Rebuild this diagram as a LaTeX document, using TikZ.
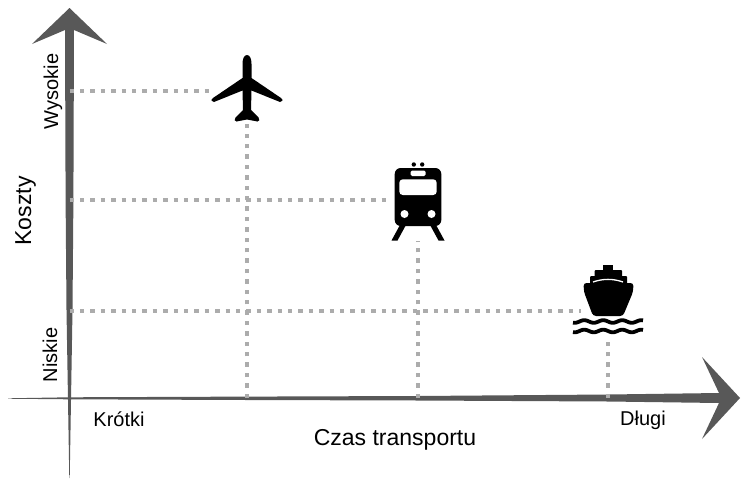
\documentclass[tikz,border=0pt]{standalone}
\usepackage{fontspec}
\setmainfont{Liberation Sans}

\definecolor{axisgray}{RGB}{88,88,88}
\definecolor{guidegray}{RGB}{172,172,172}

\begin{document}
\begin{tikzpicture}
[x=1pt, y=-1pt,
 guide/.style={draw=guidegray, line width=3.5pt, dash pattern=on 4.5pt off 5.9pt},
 iconbox/.style={inner sep=0pt},
 ticklabel/.style={font=\fontsize{20}{24}\selectfont, inner sep=0pt},
 axistitle/.style={font=\fontsize{23}{28}\selectfont, inner sep=0pt}]

\useasboundingbox (0,0) rectangle (741,482);

% axes
\fill[axisgray] (69.3,478) -- (68,400) -- (66.5,310) -- (65.6,200) -- (65,30) -- (32,44) -- (69.5,8)
  -- (107,44) -- (74,30) -- (73.4,200) -- (72.5,310) -- (71,400) -- (69.7,478) -- cycle;
\fill[axisgray] (8,398.3) -- (69,397.3) -- (247,396.6) -- (418,396) -- (608,394.5) -- (719,393) -- (702,357)
  -- (740,398) -- (702,439) -- (719,403) -- (608,401.5) -- (418,400.5) -- (247,400) -- (69,399.3) -- (8,398.7) -- cycle;

\coordinate (O) at (69.5,398);
\coordinate (hi) at (69.5,91);
\coordinate (mid) at (69.5,200);
\coordinate (lo) at (69.5,311);

\node[iconbox, minimum width=72pt, minimum height=72pt] (plane) at (247,88) {};
\node[iconbox, minimum width=53pt, minimum height=76pt] (train) at (418,203) {};
\node[iconbox, minimum width=54pt, minimum height=72pt] (ship) at (608,300) {};

% guides
\draw[guide] (hi) -- (hi -| plane.west);
\draw[guide] (mid) -- (mid -| train.west);
\draw[guide] (lo) -- (lo -| ship.west);
\draw[guide] (plane.south |- O) -- (plane.south);
\draw[guide] (train.south |- O) -- (train.south);
\draw[guide] (ship.south |- O) -- (ship.south);

% plane
\begin{scope}[shift={(247,88)}]
\fill (0,-33) .. controls (3,-33) and (4.5,-29) .. (4.5,-24) -- (4.5,-10) -- (34,10)
  .. controls (36.5,11.5) and (35.5,14.5) .. (33,14) -- (4.5,2.5) -- (4,22) -- (11.5,29.5)
  .. controls (13,31) and (12.5,34) .. (10.5,33.5) -- (0,31.5) -- (-10.5,33.5)
  .. controls (-12.5,34) and (-13,31) .. (-11.5,29.5) -- (-4,22) -- (-4.5,2.5) -- (-33,14)
  .. controls (-35.5,14.5) and (-36.5,11.5) .. (-34,10) -- (-4.5,-10) -- (-4.5,-24)
  .. controls (-4.5,-29) and (-3,-33) .. (0,-33) -- cycle;
\end{scope}

% train
\begin{scope}[shift={(418,203)}]
\fill[rounded corners=6pt] (-23.3,-35) rectangle (23.3,23);
\fill (-4.2,-38.5) circle (2.2pt) (4.2,-38.5) circle (2.2pt);
\fill (-17.5,21) -- (-11.5,21) -- (-20.5,37.5) -- (-26.5,37.5) -- cycle;
\fill (17.5,21) -- (11.5,21) -- (20.5,37.5) -- (26.5,37.5) -- cycle;
\fill[white, rounded corners=1.5pt] (-7.5,-32.5) rectangle (7.5,-27);
\fill[white, rounded corners=3.5pt] (-18.7,-23.7) rectangle (18.7,-8);
\fill[white] (-13.5,11) circle (4pt) (13.5,11) circle (4pt);
\end{scope}

% ship
\begin{scope}[shift={(608,300)}]
\fill (-5,-35) rectangle (5,-29);
\fill[rounded corners=1pt] (-13.5,-30) rectangle (14,-23);
\fill[rounded corners=1pt] (-18,-24) rectangle (19,-16);
\draw[white, line width=1.3pt] (-15,-18) .. controls (-5,-21.5) and (5,-21.5) .. (15,-18);
\fill[rounded corners=3pt] (-24.5,-17) -- (25.5,-17) -- (25,-8) -- (15,16) -- (-15,16) -- (-24,-8) -- cycle;
\draw[line width=3.8pt] plot[domain=-35:35, samples=80, smooth] (\x, {21.5 + 1.3*sin(\x*360/19)});
\draw[line width=3.8pt] plot[domain=-35:35, samples=80, smooth] (\x, {31 + 1.3*sin(\x*360/19)});
\end{scope}

% labels
\node[ticklabel, anchor=base] (short) at (119,426) {Krótki};
\node[ticklabel, anchor=base] (long) at (643,425) {Długi};
\node[axistitle, anchor=base] (xlabel) at (395,445) {Czas transportu};
\node[axistitle, rotate=90, anchor=base] (ylabel) at (31,211) {Koszty};
\node[ticklabel, rotate=90, anchor=base] (high) at (58,91.5) {Wysokie};
\node[ticklabel, rotate=90, anchor=base] (low) at (57,355) {Niskie};
\end{tikzpicture}
\end{document}
